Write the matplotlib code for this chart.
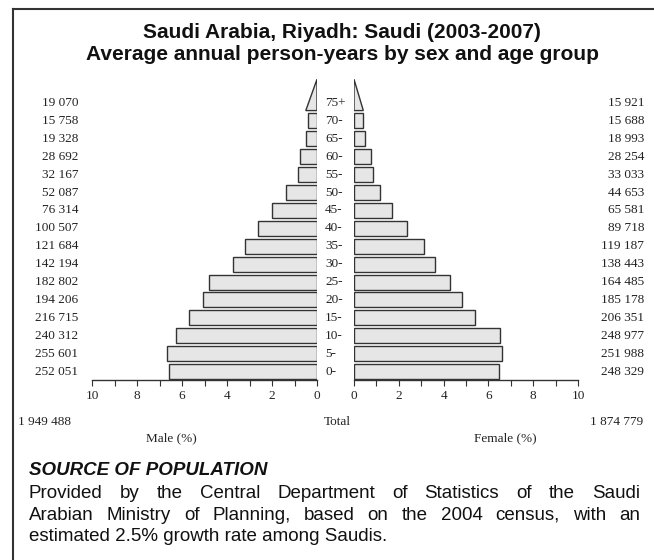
import matplotlib
matplotlib.use('Agg')
import matplotlib.pyplot as plt
from matplotlib.transforms import blended_transform_factory
from matplotlib.lines import Line2D
import numpy as np

# 数据
ages = ['0-', '5-', '10-', '15-', '20-', '25-', '30-', '35-', '40-', '45-',
        '50-', '55-', '60-', '65-', '70-', '75+']
male = [252051, 255601, 240312, 216715, 194206, 182802, 142194, 121684,
        100507, 76314, 52087, 32167, 28692, 19328, 15758, 19070]
female = [248329, 251988, 248977, 206351, 185178, 164485, 138443, 119187,
          89718, 65581, 44653, 33033, 28254, 18993, 15688, 15921]
male_total = '1 949 488'
female_total = '1 874 779'
ticks = [0, 2, 4, 6, 8, 10]

title1 = 'Saudi Arabia, Riyadh: Saudi (2003-2007)'
title2 = 'Average annual person-years by sex and age group'
src_head = 'SOURCE OF POPULATION'
src_lines = ['Provided by the Central Department of Statistics of the Saudi',
             'Arabian Ministry of Planning, based on the 2004 census, with an',
             'estimated 2.5% growth rate among Saudis.']


def fmt(n):
    return '{:,}'.format(n).replace(',', ' ')


W, H = 654, 560
total = sum(male) + sum(female)
pm = np.array(male) / total * 100
pf = np.array(female) / total * 100
y = np.arange(len(ages))

serif = 'Liberation Serif'
sans = 'Liberation Sans'
tc = '#222222'
face = '#e6e6e6'
edge = '#333333'

fig = plt.figure(figsize=(W / 100, H / 100), dpi=100)
fig.patch.set_facecolor('white')

# 两个坐标轴（像素换算成 figure 比例）
ax_bot, ax_top = 380, 78
axL = fig.add_axes([92 / W, 1 - ax_bot / H, 225 / W, (ax_bot - ax_top) / H])
axR = fig.add_axes([354 / W, 1 - ax_bot / H, 224 / W, (ax_bot - ax_top) / H])

bh = 0.84
for ax, vals in [(axL, pm), (axR, pf)]:
    ax.barh(y[:-1], vals[:-1], height=bh, color=face, edgecolor=edge, linewidth=1.0)
    # 75+ 画成三角形
    yb = y[-1] - bh / 2
    ax.fill([0, vals[-1], 0], [yb, yb, yb + 1.75], facecolor=face,
            edgecolor=edge, linewidth=1.0)
    ax.set_xlim(0, 10)
    ax.set_ylim(-0.47, 16.4)
    ax.set_yticks([])
    for s in ['top', 'left', 'right']:
        ax.spines[s].set_visible(False)
    ax.spines['bottom'].set_color(edge)
    ax.spines['bottom'].set_linewidth(1.0)
    ax.set_xticks(ticks)
    ax.set_xticks(range(11), minor=True)
    ax.tick_params(axis='x', which='both', direction='out', length=4,
                   width=0.8, color=edge, labelsize=9.5, labelcolor=tc, pad=3)
    for lab in ax.get_xticklabels():
        lab.set_fontfamily(serif)
    ax.patch.set_alpha(0)
axL.invert_xaxis()

# 年龄和人数标签
trL = blended_transform_factory(fig.transFigure, axL.transData)
for i, a in enumerate(ages):
    fig.text(325 / W, y[i], a, transform=trL, ha='left', va='center',
             family=serif, fontsize=9.5, color=tc)
    fig.text(78 / W, y[i], fmt(male[i]), transform=trL, ha='right', va='center',
             family=serif, fontsize=9.5, color=tc)
    fig.text(644 / W, y[i], fmt(female[i]), transform=trL, ha='right', va='center',
             family=serif, fontsize=9.5, color=tc)

fig.text(18 / W, 1 - 422 / H, male_total, ha='left', va='center',
         family=serif, fontsize=9.5, color=tc)
fig.text(337 / W, 1 - 422 / H, 'Total', ha='center', va='center',
         family=serif, fontsize=9.5, color=tc)
fig.text(643 / W, 1 - 422 / H, female_total, ha='right', va='center',
         family=serif, fontsize=9.5, color=tc)
fig.text(171 / W, 1 - 438 / H, 'Male (%)', ha='center', va='center',
         family=serif, fontsize=9.5, color=tc)
fig.text(505 / W, 1 - 438 / H, 'Female (%)', ha='center', va='center',
         family=serif, fontsize=9.5, color=tc)

# 标题
fig.text(342 / W, 1 - 38.5 / H, title1, ha='center', va='baseline', family=sans,
         fontsize=15, fontweight='bold', color='#111111')
fig.text(342 / W, 1 - 60 / H, title2, ha='center', va='baseline', family=sans,
         fontsize=15, fontweight='bold', color='#111111')

# 来源
fig.text(29 / W, 1 - 475 / H, src_head, ha='left', va='baseline', family=sans,
         fontsize=13.5, fontweight='bold', style='italic', color='#111111')

renderer = fig.canvas.get_renderer()
x0, x1 = 29, 640
line_y = [498, 519.5, 541]
for k, line in enumerate(src_lines):
    words = line.split(' ')
    yy = 1 - line_y[k] / H
    if k == len(src_lines) - 1:
        fig.text(x0 / W, yy, line, ha='left', va='baseline', family=sans,
                 fontsize=13.5, color='#111111')
        continue
    # 两端对齐
    ts = [fig.text(0, yy, w, ha='left', va='baseline', family=sans,
                   fontsize=13.5, color='#111111') for w in words]
    widths = [t.get_window_extent(renderer).width for t in ts]
    gap = (x1 - x0 - sum(widths)) / (len(words) - 1)
    xc = x0
    for t, w in zip(ts, widths):
        t.set_x(xc / W)
        xc += w + gap

# 外框
fig.add_artist(Line2D([13 / W, 1], [1 - 9 / H, 1 - 9 / H], color='#333333', lw=1.5))
fig.add_artist(Line2D([13 / W, 13 / W], [0, 1 - 9 / H], color='#333333', lw=1.5))

fig.savefig('out.png', dpi=100)
